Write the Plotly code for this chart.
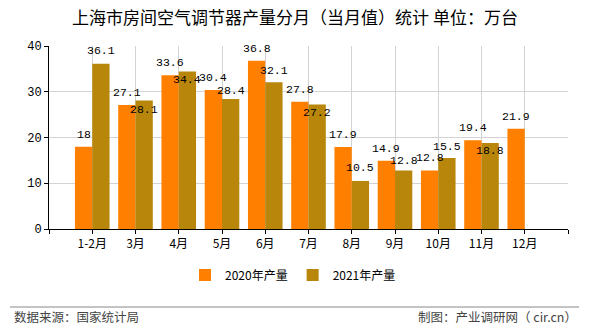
import plotly.graph_objects as go

categories = ["1-2月", "3月", "4月", "5月", "6月", "7月", "8月", "9月", "10月", "11月", "12月"]
prod_2020 = [18, 27.1, 33.6, 30.4, 36.8, 27.8, 17.9, 14.9, 12.8, 19.4, 21.9]
prod_2021 = [36.1, 28.1, 34.4, 28.4, 32.1, 27.2, 10.5, 12.8, 15.5, 18.8, None]
series_names = ["2020年产量", "2021年产量"]
y_ticks = [0, 10, 20, 30, 40]

# label vertical offsets (px), style only
shift_2020 = [12.5] * 11
shift_2021 = [13, -9, -8, 9, 12, -8, 13, 10, 12, -8, 0]

C20 = "#FF8000"
C21 = "#B8860B"
NUMFONT = dict(family="Liberation Mono, DejaVu Sans Mono, monospace", size=11.5, color="#000")
CJK = "Noto Sans CJK SC"

L, R, T, B = 49, 22, 46, 101
W, H = 590, 330
PW, PH = W - L - R, H - T - B

def px(x):
    return (x - L) / PW

def py(y):
    return (H - B - y) / PH

xpos = [i + 1 for i in range(len(categories))]

fig = go.Figure()
fig.add_trace(go.Bar(x=xpos, y=prod_2020, name=series_names[0], marker_color=C20,
                     marker_line_width=0, offsetgroup="a"))
fig.add_trace(go.Bar(x=xpos, y=prod_2021, name=series_names[1], marker_color=C21,
                     marker_line_width=0, offsetgroup="b"))

ann = []
for i, v in enumerate(prod_2020):
    if v is None:
        continue
    ann.append(dict(x=xpos[i] - 0.2, y=v, xref="x", yref="y", text=f"{v:g}", showarrow=False,
                    yanchor="middle", yshift=shift_2020[i], font=NUMFONT))
for i, v in enumerate(prod_2021):
    if v is None:
        continue
    ann.append(dict(x=xpos[i] + 0.2, y=v, xref="x", yref="y", text=f"{v:g}", showarrow=False,
                    yanchor="middle", yshift=shift_2021[i], font=NUMFONT))

ann.append(dict(x=px(12), y=py(316), xref="paper", yref="paper", text="数据来源：国家统计局",
                showarrow=False, xanchor="left", yanchor="middle",
                font=dict(family=CJK, size=12.5, color="#444")))
ann.append(dict(x=px(579), y=py(316), xref="paper", yref="paper", text="制图：产业调研网（ cir.cn）",
                showarrow=False, xanchor="right", yanchor="middle",
                font=dict(family=CJK, size=12.5, color="#444")))

fig.update_layout(
    width=W, height=H,
    margin=dict(l=L, r=R, t=T, b=B, pad=0),
    paper_bgcolor="white", plot_bgcolor="white",
    barmode="group", bargap=0.2, bargroupgap=0,
    title=dict(text="上海市房间空气调节器产量分月（当月值）统计 单位：万台", x=0.5, xref="container",
               xanchor="center", y=1 - 18 / H, yanchor="middle",
               font=dict(family=CJK, size=17, color="#000")),
    font=dict(family=CJK, size=12, color="#000"),
    showlegend=True,
    legend=dict(orientation="h", x=px(293), xanchor="center", y=py(275), yanchor="middle",
                font=dict(family=CJK, size=12, color="#000"), itemwidth=30,
                traceorder="normal", bgcolor="rgba(0,0,0,0)"),
    annotations=ann,
    shapes=[dict(type="line", xref="paper", yref="paper", x0=px(10), x1=px(579),
                 y0=py(307), y1=py(307), line=dict(color="#888", width=1))],
)

fig.update_xaxes(
    range=[0, 12], tickmode="array", tickvals=list(range(0, 13)),
    ticktext=[""] + categories + [""],
    showgrid=True, gridcolor="#d3d3d3", gridwidth=1,
    showline=True, linecolor="#000", linewidth=1,
    ticks="outside", ticklen=4, tickcolor="#000",
    tickfont=dict(family=CJK, size=12, color="#000"), zeroline=False,
)
fig.update_yaxes(
    range=[0, 40], tickmode="array", tickvals=y_ticks,
    showgrid=True, gridcolor="#d3d3d3", gridwidth=1,
    showline=True, linecolor="#000", linewidth=1,
    ticks="outside", ticklen=4, tickcolor="#000",
    tickfont=dict(family="Liberation Mono, DejaVu Sans Mono, monospace", size=12, color="#000"),
    zeroline=False,
)

fig.write_html("out.html")
